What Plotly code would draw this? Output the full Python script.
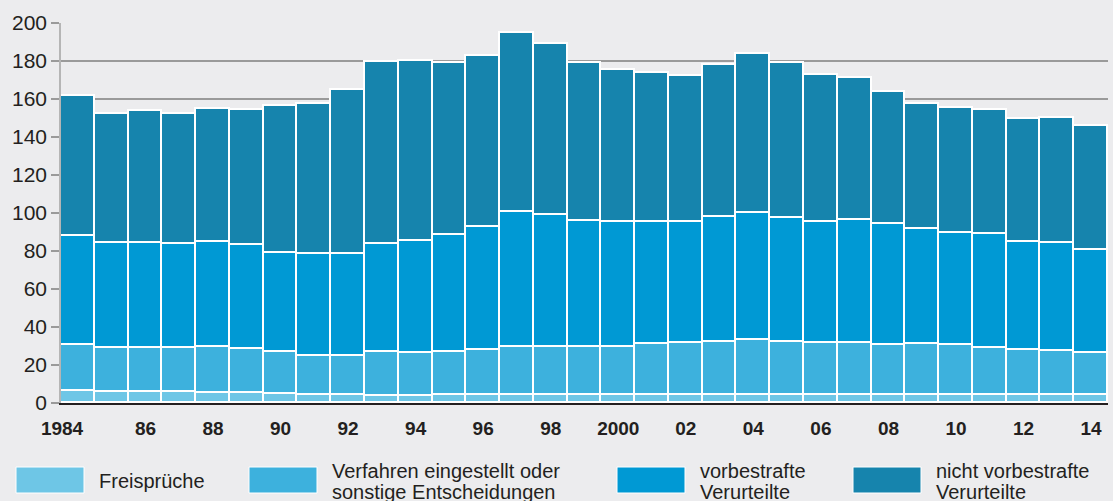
import plotly.graph_objects as go

# Verurteilte / Entscheidungen in Tausend, 1984-2014
years = list(range(1984, 2015))

freisprueche = [6.2, 6.0, 5.8, 5.8, 5.5, 5.1, 4.6, 4.2, 4.2, 3.9, 3.9, 4.0, 4.2, 4.2, 4.2, 4.2,
                4.0, 4.2, 4.2, 4.2, 4.2, 4.2, 4.2, 4.0, 4.2, 4.2, 4.2, 4.0, 4.0, 4.0, 4.0]
eingestellt = [24.1, 22.7, 23.0, 22.9, 24.0, 23.2, 22.1, 20.4, 20.8, 22.7, 22.3, 22.9, 23.9, 25.2, 25.2, 25.3,
               25.5, 26.7, 27.4, 28.0, 28.8, 27.8, 27.6, 27.6, 26.4, 26.9, 26.2, 25.0, 23.9, 23.4, 22.4]
vorbestraft = [57.7, 55.5, 55.5, 54.8, 55.2, 54.7, 52.4, 53.8, 53.4, 56.9, 59.2, 61.5, 64.7, 71.0, 69.5, 66.4,
               65.8, 64.5, 63.7, 65.7, 67.2, 65.2, 63.5, 64.5, 63.4, 60.5, 59.2, 59.8, 56.8, 56.8, 54.1]
nicht_vorbestraft = [73.8, 68.0, 69.6, 68.7, 69.9, 71.4, 77.1, 79.2, 86.3, 96.1, 94.7, 90.5, 89.8, 94.5, 90.0, 83.0,
                     80.1, 78.2, 76.9, 80.0, 83.4, 81.9, 77.1, 74.7, 69.9, 66.0, 65.8, 65.5, 65.0, 65.9, 65.2]

series_names = [["Freisprüche"],
                ["Verfahren eingestellt oder", "sonstige Entscheidungen"],
                ["vorbestrafte", "Verurteilte"],
                ["nicht vorbestrafte", "Verurteilte"]]

tick_years = list(range(1984, 2015, 2))
tick_text = ["1984", "86", "88", "90", "92", "94", "96", "98",
             "2000", "02", "04", "06", "08", "10", "12", "14"]

colors = ["#6EC6E6", "#3DB1DD", "#0099D4", "#1684AD"]
bg = "#ECECEE"
txt = "#231F20"
font = "Liberation Sans, Arial, sans-serif"

W, H = 1113, 501
L, R, T, B = 61, 5, 23, 98
pw, ph = W - L - R, H - T - B


def px(x):
    return (x - L) / pw


def py(y):
    return (H - B - y) / ph


fig = go.Figure()
for vals, col, name in zip([freisprueche, eingestellt, vorbestraft, nicht_vorbestraft], colors, series_names):
    fig.add_trace(go.Bar(
        x=years, y=vals, name=" ".join(name),
        marker=dict(color=col, line=dict(color="white", width=1.6)),
        showlegend=False,
    ))

# handmade legend below the chart
legend_x = [16, 249, 617, 853]
shapes = []
annotations = []
for i, (x0, lines) in enumerate(zip(legend_x, series_names)):
    shapes.append(dict(type="rect", xref="paper", yref="paper",
                       x0=px(x0), x1=px(x0 + 68), y0=py(467), y1=py(493),
                       fillcolor=colors[i], line=dict(color="white", width=1)))
    if len(lines) == 1:
        ys = [481]
    else:
        ys = [471, 492]
    for line, yy in zip(lines, ys):
        annotations.append(dict(xref="paper", yref="paper", x=px(x0 + 81), y=py(yy),
                                text=line, showarrow=False, xanchor="left", yanchor="middle",
                                font=dict(family=font, size=20, color=txt)))

# the first year label sits a little left of its bar in the original
shown_text = [tick_text[0] + "\u00a0" * 6] + tick_text[1:]

fig.update_layout(
    width=W, height=H,
    margin=dict(l=L, r=R, t=T, b=B, autoexpand=False),
    paper_bgcolor=bg, plot_bgcolor=bg,
    barmode="stack", bargap=0,
    shapes=shapes, annotations=annotations,
    xaxis=dict(range=[1983.5, 2014.5], tickvals=tick_years, ticktext=shown_text,
               tickfont=dict(family=font, size=19, color=txt, weight="bold"),
               ticks="", ticklabelstandoff=7,
               showline=True, linecolor="#231F20", linewidth=2,
               showgrid=False, zeroline=False),
    yaxis=dict(range=[0, 200], dtick=20, tickfont=dict(family=font, size=21, color=txt),
               showgrid=True, gridcolor="#9A9A9A", gridwidth=1.5,
               ticks="outside", ticklen=8, tickcolor="#9A9A9A", tickwidth=1.5,
               showline=True, linecolor="#B5B5B5", linewidth=1.5, zeroline=False),
)

# page margin off so the figure sits at the window's top-left corner
fig.write_html("out.html", config={"displayModeBar": False},
               post_script="document.body.style.margin='0';document.body.style.overflow='hidden';")
